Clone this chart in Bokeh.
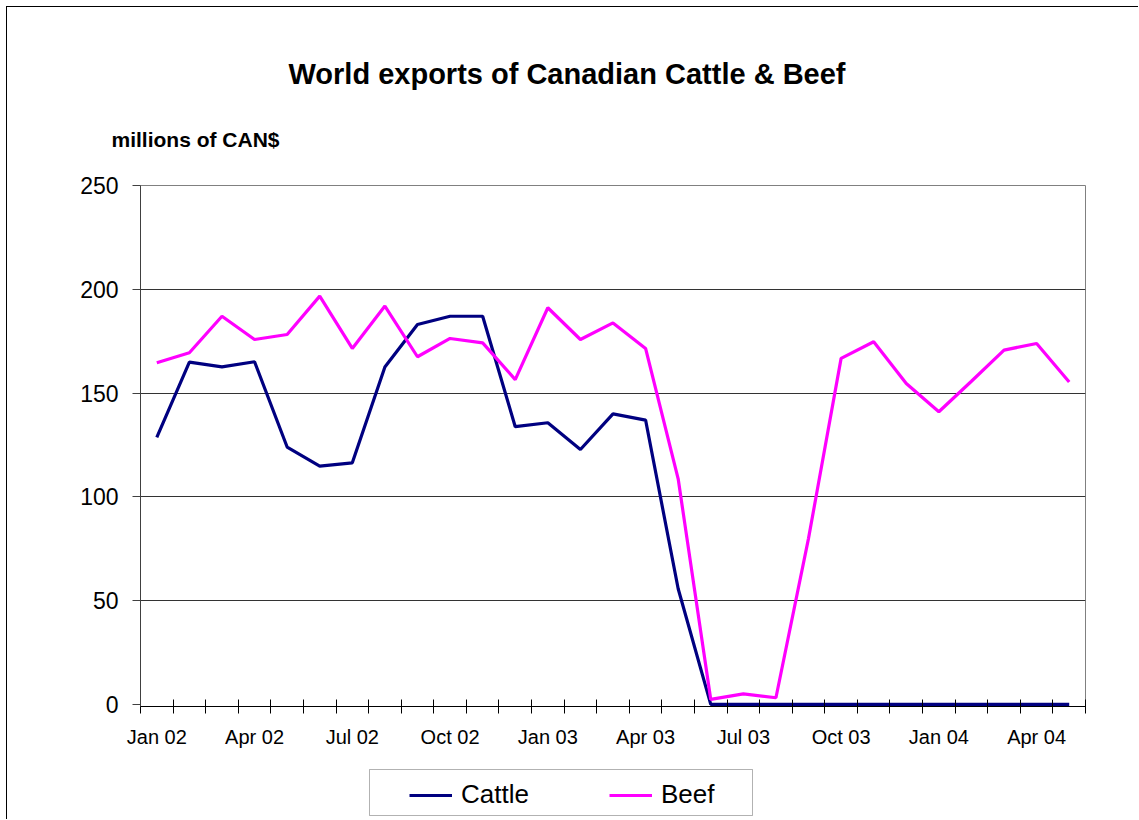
from bokeh.plotting import figure
from bokeh.models import Range1d, FixedTicker, Legend, LegendItem, Title, BoxAnnotation
from bokeh.layouts import column
from bokeh.embed import file_html
from bokeh.resources import INLINE

months = ["Jan 02", "Feb 02", "Mar 02", "Apr 02", "May 02", "Jun 02", "Jul 02", "Aug 02",
          "Sep 02", "Oct 02", "Nov 02", "Dec 02", "Jan 03", "Feb 03", "Mar 03", "Apr 03",
          "May 03", "Jun 03", "Jul 03", "Aug 03", "Sep 03", "Oct 03", "Nov 03", "Dec 03",
          "Jan 04", "Feb 04", "Mar 04", "Apr 04", "May 04"]
cattle = [128.6, 164.9, 162.6, 165.1, 124.0, 114.8, 116.4, 162.6, 183.0, 187.0, 187.0,
          133.8, 135.7, 122.8, 140.0, 137.0, 55.7, 0, 0, 0, 0, 0, 0, 0, 0, 0, 0, 0, 0]
beef = [164.6, 169.4, 187.0, 175.8, 178.2, 196.7, 171.5, 191.9, 167.5, 176.3, 174.2,
        156.5, 191.1, 175.8, 183.8, 171.5, 108.7, 2.4, 5.1, 3.2, 80.0, 166.7, 174.7,
        154.6, 141.0, 155.7, 170.7, 173.9, 155.3]
y_ticks = [0, 50, 100, 150, 200, 250]
label_every = 3

FONT = "Liberation Sans"
CATTLE_COLOR = "#000080"
BEEF_COLOR = "#FF00FF"
LW = 3.2
xs = list(range(len(months)))

# ---------------- main chart ----------------
p = figure(width=1131, height=749, output_backend="svg", toolbar_location=None,
           x_range=Range1d(-0.5, len(months) - 0.5), y_range=Range1d(-1, 250),
           min_border_left=133, min_border_right=53, min_border_top=178,
           min_border_bottom=50, title=None)
p.background_fill_color = "white"
p.border_fill_color = "white"
p.outline_line_color = "#808080"
p.outline_line_width = 1

major = xs[::label_every]
p.xaxis.ticker = FixedTicker(ticks=major, minor_ticks=[i - 0.5 for i in range(len(months) + 1)])
p.xaxis.major_label_overrides = {i: months[i] for i in major}
p.xaxis.major_tick_in = 0
p.xaxis.major_tick_out = 0
p.xaxis.minor_tick_in = 7
p.xaxis.minor_tick_out = 7
p.xaxis.minor_tick_line_color = "black"
p.xaxis.axis_line_color = "black"
p.xaxis.major_label_text_font = FONT
p.xaxis.major_label_text_font_size = "20px"
p.xaxis.major_label_text_color = "black"
p.xaxis.major_label_standoff = 12
p.xgrid.visible = False

p.yaxis.ticker = FixedTicker(ticks=y_ticks)
p.yaxis.major_tick_in = 0
p.yaxis.major_tick_out = 8
p.yaxis.minor_tick_line_color = None
p.yaxis.axis_line_color = "#404040"
p.yaxis.major_tick_line_color = "#404040"
p.yaxis.major_label_text_font = FONT
p.yaxis.major_label_text_font_size = "23px"
p.yaxis.major_label_text_color = "black"
p.yaxis.major_label_standoff = 14
p.ygrid.ticker = FixedTicker(ticks=y_ticks[1:-1])
p.ygrid.grid_line_color = "#333333"
p.ygrid.grid_line_width = 1

p.line(xs, cattle, line_color=CATTLE_COLOR, line_width=LW)
p.line(xs, beef, line_color=BEEF_COLOR, line_width=LW)

# titles (first added = closest to the frame)
p.add_layout(Title(text="millions of CAN$", text_font=FONT, text_font_size="21px",
                   text_font_style="bold", text_color="black", align="left",
                   offset=-29, standoff=69), "above")
p.add_layout(Title(text="World exports of Canadian Cattle & Beef", text_font=FONT,
                   text_font_size="29px", text_font_style="bold", text_color="black",
                   align="left", offset=148, standoff=3), "above")

# ---------------- legend strip (frame aligned with the chart frame) ----------------
q = figure(width=1131, height=63, output_backend="svg", toolbar_location=None,
           x_range=Range1d(141, 1086), y_range=Range1d(0, 63),
           min_border=0, min_border_left=133, min_border_right=53,
           min_border_top=0, min_border_bottom=0, title=None)
q.axis.visible = False
q.grid.visible = False
q.outline_line_color = None
q.background_fill_color = "white"
q.border_fill_color = "white"
q.extra_y_ranges = {"off": Range1d(5000, 5001)}
lc = q.line(xs, cattle, line_color=CATTLE_COLOR, line_width=LW, y_range_name="off")
lb = q.line(xs, beef, line_color=BEEF_COLOR, line_width=LW, y_range_name="off")

q.add_layout(BoxAnnotation(left=370, right=753, bottom=4, top=50,
                           fill_alpha=0, line_color="black", line_width=1))

legend = Legend(items=[LegendItem(label="Cattle", renderers=[lc]),
                       LegendItem(label="Beef", renderers=[lb])],
                orientation="horizontal", location=(269, 9),
                padding=0, margin=0, spacing=80, label_standoff=9,
                glyph_width=43, glyph_height=20, label_height=20,
                label_text_font=FONT, label_text_font_size="26px",
                label_text_color="black",
                border_line_alpha=0, background_fill_alpha=0)
q.add_layout(legend, "center")

page = column(p, q, spacing=0,
              styles={"margin-left": "6px", "margin-top": "6px",
                      "border-left": "1px solid black", "border-top": "1px solid black"})

open("out.html", "w").write(file_html(page, INLINE))
